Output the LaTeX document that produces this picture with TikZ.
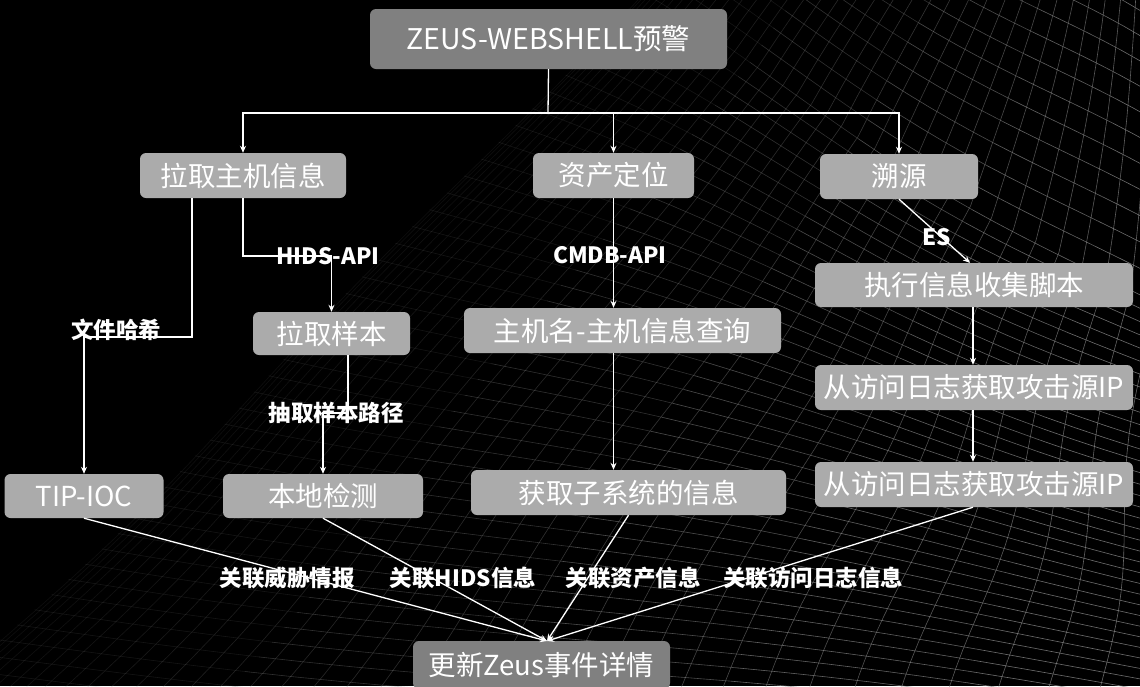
\documentclass[tikz,border=0pt]{standalone}
\usepackage{fontspec}
\setmainfont{Noto Sans CJK SC}
\usetikzlibrary{arrows.meta}
\definecolor{boxgray}{HTML}{ABABAB}
\definecolor{darkbox}{HTML}{808080}
\definecolor{meshgray}{HTML}{8A8A8A}
\begin{document}
\begin{tikzpicture}[x=1pt,y=-1pt,
  declare function={
    ry(\a)=760-424*\a-600*max(\a-1,0);
    mx(\a,\b)=(1-\b)*640*\a+\b*1200+6*sin(500*\a+300*\b);
    my(\a,\b)=(1-\b)*640*(1-\a)+\b*ry(\a)+8*sin(350*\b+250*\a);
  },
  box/.style={rectangle, rounded corners=6pt, fill=boxgray, text=white,
    font=\fontsize{27.5}{31}\selectfont, inner sep=0pt},
  lbl/.style={text=white, font=\bfseries\fontsize{22.5}{25}\selectfont, inner sep=0pt},
  arr/.style={draw=white, line width=1.3pt, -{Stealth[length=7pt,width=6pt]}},
  plain/.style={draw=white, line width=1.3pt},
  meshline/.style={draw=meshgray, line width=0.6pt}
]
\useasboundingbox (0,0) rectangle (1140,686);
\fill[black] (0,0) rectangle (1140,686);

% background mesh
\begin{scope}
\clip (0,0) rectangle (1140,686);
\foreach \ss in {-0.15,-0.125,...,1.4} {
  \foreach \ta/\tb/\o in {0/0.2/0.15, 0.2/0.4/0.35, 0.4/0.6/0.55, 0.6/0.8/0.7, 0.8/1/0.8} {
    \draw[meshline, opacity=\o] plot[domain=\ta:\tb, samples=6, variable=\u] ({mx(\ss,\u)},{my(\ss,\u)});
  }
}
\foreach \k in {1,...,40} {
  \pgfmathsetmacro\tv{(\k/40)^1.8}
  \pgfmathsetmacro\meshop{0.1+0.7*\tv}
  \draw[meshline, opacity=\meshop] plot[domain=-0.15:1.4, samples=40, variable=\u] ({mx(\u,\tv)},{my(\u,\tv)});
}
\end{scope}

% nodes
\node[box, fill=darkbox, minimum width=357pt, minimum height=60pt, font=\fontsize{28.5}{32}\selectfont] (top) at (548.5,39) {ZEUS-WEBSHELL预警};
\node[box, minimum width=206pt, minimum height=45pt] (host) at (243,175.5) {拉取主机信息};
\node[box, minimum width=161pt, minimum height=45pt] (asset) at (613.5,175.5) {资产定位};
\node[box, minimum width=158pt, minimum height=45pt] (trace) at (899,176.5) {溯源};
\node[box, minimum width=318pt, minimum height=44pt] (exec) at (974,285) {执行信息收集脚本};
\node[box, minimum width=157pt, minimum height=43pt] (sample) at (331.5,333.5) {拉取样本};
\node[box, minimum width=317pt, minimum height=45pt] (hostq) at (622.5,330.5) {主机名-主机信息查询};
\node[box, minimum width=318pt, minimum height=45pt] (ip1) at (974,387.5) {从访问日志获取攻击源IP};
\node[box, minimum width=318pt, minimum height=45pt] (ip2) at (974,484.5) {从访问日志获取攻击源IP};
\node[box, minimum width=159pt, minimum height=44pt] (tip) at (84,496) {TIP-IOC};
\node[box, minimum width=200pt, minimum height=44pt] (local) at (323,496) {本地检测};
\node[box, minimum width=315pt, minimum height=45pt] (subsys) at (628.5,492.5) {获取子系统的信息};
\node[box, fill=darkbox, minimum width=257pt, minimum height=48pt] (update) at (541.5,665) {更新Zeus事件详情};

% connectors
\coordinate (junc) at (548,113);
\draw[plain] (top.south) -- (junc);
\draw[arr] (junc) -| (host.north);
\draw[arr] (junc) -| (trace.north);
\draw[arr] (asset.north |- junc) -- (asset.north);

\coordinate (hashbend) at (84,337);
\draw[arr] ([xshift=-51pt]host.south) |- (hashbend) -- (tip.north);
\coordinate (hidsbend) at (331.5,256);
\draw[arr] (host.south) |- (hidsbend) -- (sample.north);
\coordinate (pathbend) at (323,413);
\draw[arr] ([xshift=16.5pt]sample.south) |- (pathbend) -- (local.north);

\draw[arr] (asset.south) -- (asset.south |- hostq.north);
\draw[arr] (asset.south |- hostq.south) -- (asset.south |- subsys.north);

\draw[arr] (trace.south) -- ([xshift=-4pt]exec.north);
\draw[arr] ([xshift=-1pt]exec.south) -- ([xshift=-1pt]ip1.north);
\draw[arr] ([xshift=-1pt]ip1.south) -- ([xshift=-1pt]ip2.north);

\coordinate (conv) at (547,641);
\draw[arr] (tip.south) -- (conv);
\draw[arr] (local.south) -- (conv);
\draw[arr] (subsys.south) -- (conv);
\draw[arr] ([xshift=-1pt]ip2.south) -- (conv);

% labels
\node[lbl] (lhash) at (116,330) {文件哈希};
\node[lbl] (lhids) at (328,256) {HIDS-API};
\node[lbl] (lpath) at (336,413) {抽取样本路径};
\node[lbl] (lcmdb) at (610,255) {CMDB-API};
\node[lbl] (les) at (937,237) {ES};
\node[lbl] (l1) at (287,578) {关联威胁情报};
\node[lbl] (l2) at (463,578) {关联HIDS信息};
\node[lbl] (l3) at (633,578) {关联资产信息};
\node[lbl] (l4) at (813,578) {关联访问日志信息};
\end{tikzpicture}
\end{document}
